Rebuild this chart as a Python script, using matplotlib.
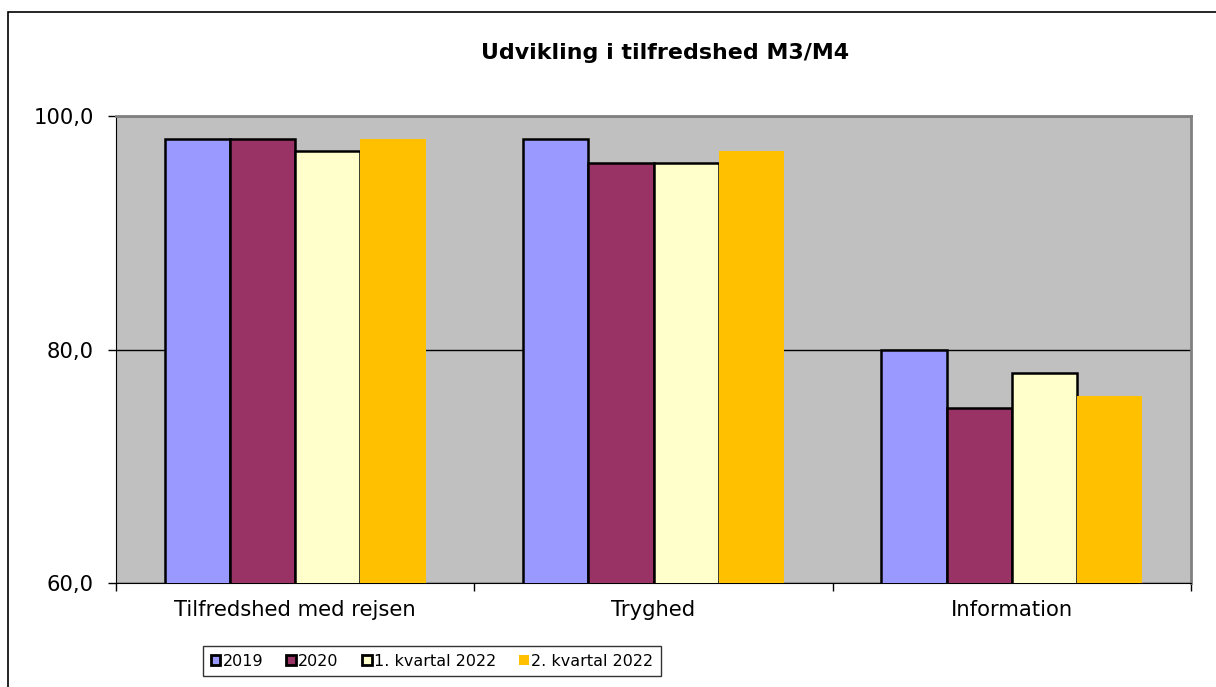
import numpy as np
import matplotlib.pyplot as plt
from matplotlib.patches import Rectangle

categories = ["Tilfredshed med rejsen", "Tryghed", "Information"]
series = ["2019", "2020", "1. kvartal 2022", "2. kvartal 2022"]
v2019 = [98.0, 98.0, 80.0]
v2020 = [98.0, 96.0, 75.0]
v2022q1 = [97.0, 96.0, 78.0]
v2022q2 = [98.0, 97.0, 76.0]
yticks = [60, 80, 100]
ytick_labels = ["60,0", "80,0", "100,0"]

colors = ["#9999FF", "#993366", "#FFFFCC", "#FFC000"]
edges = ["black", "black", "black", "none"]

fig = plt.figure(figsize=(12.16, 6.87), dpi=100)
fig.patch.set_facecolor("white")

# outer chart frame
fig.add_artist(Rectangle((8 / 1216, -0.1), 1.2, 1 - 12 / 687 + 0.1,
                         transform=fig.transFigure, fill=False,
                         edgecolor="black", linewidth=1.2))

ax = fig.add_axes([116 / 1216, 1 - 583 / 687, 1075 / 1216, 467 / 687])
ax.set_facecolor("#C0C0C0")

x = np.arange(len(categories))
w = 0.182
all_vals = [v2019, v2020, v2022q1, v2022q2]
for i, vals in enumerate(all_vals):
    ax.bar(x + (i - 1.5) * w, vals, w, color=colors[i], edgecolor=edges[i],
           linewidth=1.8 if edges[i] != "none" else 0, label=series[i],
           zorder=3)

ax.set_xlim(-0.5, 2.5)
ax.set_ylim(60, 100)
ax.set_yticks(yticks)
ax.set_yticklabels(ytick_labels, fontsize=15.2)
ax.set_xticks(x)
ax.set_xticklabels(categories, fontsize=15.2)
ax.tick_params(axis="x", length=0, pad=12)
ax.set_xticks([-0.5, 0.5, 1.5, 2.5], minor=True)
ax.tick_params(axis="x", which="minor", length=6, direction="out", width=1)
ax.tick_params(axis="y", length=6, direction="out", width=1, pad=10)
ax.yaxis.grid(True, color="black", linewidth=1, zorder=1)
ax.set_axisbelow(True)

for s in ["top", "right"]:
    ax.spines[s].set_color("#808080")
    ax.spines[s].set_linewidth(2)
ax.spines["left"].set_color("black")
ax.spines["bottom"].set_color("black")

fig.text(665 / 1216, 1 - 53 / 687, "Udvikling i tilfredshed M3/M4",
         ha="center", va="center", fontsize=15.9, fontweight="bold")

leg = fig.legend(loc="center", bbox_to_anchor=(432 / 1216, 1 - 661 / 687),
                 ncol=4, fontsize=11.5, frameon=True, fancybox=False,
                 handlelength=0.6, handleheight=0.6, handletextpad=0.15,
                 columnspacing=1.45, borderpad=0.5)
leg.get_frame().set_edgecolor("black")
leg.get_frame().set_linewidth(1)
for h in leg.legend_handles:
    if h.get_edgecolor()[3] > 0:
        h.set_linewidth(2)

fig.savefig("out.png", dpi=100)
